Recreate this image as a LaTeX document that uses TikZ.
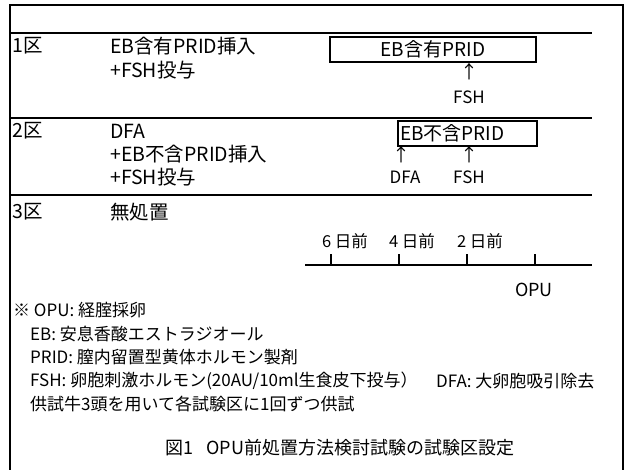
\documentclass[tikz,border=0pt]{standalone}
\usepackage{fontspec}
\setmainfont{Noto Sans CJK JP}
\begin{document}
\begin{tikzpicture}[x=1pt,y=-1pt,
  rowtxt/.style={anchor=west,inner sep=0pt,font=\fontsize{19.5}{21}\selectfont},
  notetxt/.style={anchor=west,inner sep=0pt,font=\fontsize{17}{19}\selectfont},
  ctxt/.style={inner sep=0pt,font=\fontsize{17}{19}\selectfont},
  arr/.style={inner sep=0pt,font=\fontsize{18}{20}\selectfont},
  daytxt/.style={inner sep=0pt,font=\fontsize{16.5}{18}\selectfont},
  sep/.style={line width=1.8pt},
  pbox/.style={draw,line width=2.6pt,inner sep=0pt,font=\fontsize{19}{21}\selectfont},
  tl/.style={line width=2.8pt}]
\useasboundingbox (0,0) rectangle (625,470);
% frame
\coordinate (tl0) at (10,5); \coordinate (tr0) at (623,5);
\coordinate (bl0) at (10,470); \coordinate (br0) at (623,470);
\draw[line width=1.8pt] (bl0) -- (tl0) -- (tr0) -- (br0);
% separators
\foreach \y/\n in {33/a,118/b,195/c}{
  \coordinate (s\n l) at (10,\y); \coordinate (s\n r) at (592,\y);
  \draw[sep] (s\n l) -- (s\n r);}
% row 1
\node[rowtxt] (r1) at (12,46) {1区};
\node[rowtxt] (r1a) at (110,46) {EB含有PRID挿入};
\node[rowtxt] (r1b) at (110,70) {+FSH投与};
\node[pbox,minimum width=206pt,minimum height=25pt] (box1) at (433,49.5) {EB含有PRID};
\node[arr] (ar1) at (469,72) {↑};
\node[ctxt] (f1) at (469,97) {FSH};
% row 2
\node[rowtxt] (r2) at (12,131) {2区};
\node[rowtxt] (r2a) at (110,131) {DFA};
\node[rowtxt] (r2b) at (110,154) {+EB不含PRID挿入};
\node[rowtxt] (r2c) at (110,177) {+FSH投与};
\node[pbox,minimum width=139pt,minimum height=25pt,text width=135pt,align=left] (box2) at (467.5,133.5) {EB不含PRID};
\node[arr] (ar2) at (401,155) {↑};
\node[arr] (ar3) at (469,155) {↑};
\node[ctxt] (d2) at (405,177) {DFA};
\node[ctxt] (f2) at (469,177) {FSH};
% row 3
\node[rowtxt] (r3) at (12,212) {3区};
\node[rowtxt] (r3a) at (110,212) {無処置};
% timeline
\node[daytxt] (d6) at (345,241) {6 日前};
\node[daytxt] (d4) at (412,241) {4 日前};
\node[daytxt] (d2d) at (480,241) {2 日前};
\coordinate (tlA) at (305,265); \coordinate (tlB) at (592,265);
\draw[tl] (tlA) -- (tlB);
\foreach \x/\n in {331/t6,399/t4,467/t2,535/t0}{
  \coordinate (\n b) at (\x,265); \coordinate (\n t) at (\x,254);
  \draw[tl] (\n b) -- (\n t);}
\node[inner sep=0pt,font=\fontsize{18}{20}\selectfont] (opu) at (534,290) {OPU};
% notes
\node[notetxt] (n1) at (13,310) {※ OPU: 経腟採卵};
\node[notetxt] (n2) at (30,334) {EB: 安息香酸エストラジオール};
\node[notetxt] (n3) at (30,357) {PRID: 膣内留置型黄体ホルモン製剤};
\node[notetxt] (n4) at (30,381) {FSH: 卵胞刺激ホルモン(20AU/10ml生食皮下投与）};
\node[notetxt] (n5) at (436,381) {DFA: 大卵胞吸引除去};
\node[notetxt] (n6) at (30,404) {供試牛3頭を用いて各試験区に1回ずつ供試};
% caption
\node[inner sep=0pt,font=\fontsize{18}{21}\selectfont] (cap) at (340,448) {図1\hspace{0.7em}OPU前処置方法検討試験の試験区設定};
\end{tikzpicture}
\end{document}
